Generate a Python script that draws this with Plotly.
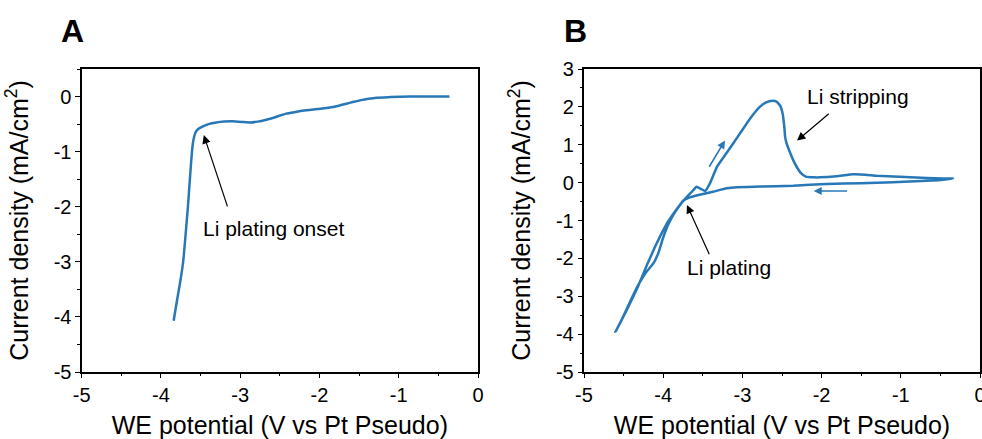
import plotly.graph_objects as go

# ---------------- data ----------------
a_potential = [-3.84, -3.80, -3.76, -3.72, -3.70, -3.68, -3.66, -3.64, -3.62, -3.60,
               -3.58, -3.56, -3.53, -3.47, -3.40, -3.30, -3.20, -3.10, -2.98, -2.88,
               -2.78, -2.67, -2.55, -2.42, -2.30, -2.17, -2.02, -1.87, -1.77, -1.66,
               -1.58, -1.49, -1.38, -1.28, -1.10, -0.86, -0.60, -0.36]
a_current = [-4.07, -3.72, -3.39, -3.00, -2.69, -2.35, -2.00, -1.60, -1.20, -0.88,
             -0.72, -0.64, -0.59, -0.54, -0.50, -0.47, -0.455, -0.45, -0.46, -0.47,
             -0.455, -0.42, -0.37, -0.31, -0.28, -0.25, -0.225, -0.20, -0.17, -0.13,
             -0.10, -0.07, -0.04, -0.02, -0.01, 0.0, 0.0, 0.0]

b_potential = [-0.34, -0.50, -0.67, -1.10, -1.50, -1.94, -2.36, -2.78, -3.07, -3.20,
               -3.37, -3.54, -3.68, -3.75,
               -3.80, -3.88, -3.96, -4.03, -4.10, -4.20, -4.32, -4.46, -4.60,
               -4.52, -4.42, -4.32, -4.22, -4.12, -4.06, -4.00, -3.93, -3.85, -3.76,
               -3.68, -3.62, -3.58, -3.52, -3.47, -3.41, -3.32, -3.20, -3.03, -2.90,
               -2.78, -2.70, -2.62, -2.57, -2.52, -2.49, -2.47, -2.46, -2.44, -2.40,
               -2.36, -2.31, -2.26, -2.20, -2.10, -2.02, -1.81, -1.60, -1.45, -1.30,
               -0.88, -0.46, -0.34]
b_current = [0.11, 0.07, 0.05, 0.01, -0.015, -0.035, -0.08, -0.105, -0.12, -0.15,
             -0.24, -0.32, -0.40, -0.48,
             -0.62, -0.85, -1.10, -1.38, -1.68, -2.15, -2.75, -3.36, -3.93,
             -3.60, -3.15, -2.72, -2.38, -2.12, -1.85, -1.45, -1.08, -0.78, -0.52,
             -0.33, -0.20, -0.11, -0.17, -0.22, -0.02, 0.42, 0.78, 1.30, 1.70,
             2.00, 2.12, 2.16, 2.14, 2.02, 1.80, 1.45, 1.20, 1.02, 0.80,
             0.60, 0.40, 0.25, 0.16, 0.14, 0.14, 0.17, 0.22, 0.21, 0.18,
             0.14, 0.11, 0.11]

x_tickvals = [-5, -4, -3, -2, -1, 0]
x_ticktext = ["-5", "-4", "-3", "-2", "-1", "0"]
a_y_tickvals = [-5, -4, -3, -2, -1, 0]
a_y_ticktext = ["-5", "-4", "-3", "-2", "-1", "0"]
b_y_tickvals = [-5, -4, -3, -2, -1, 0, 1, 2, 3]
b_y_ticktext = ["-5", "-4", "-3", "-2", "-1", "0", "1", "2", "3"]

x_title = "WE potential (V vs Pt Pseudo)"
y_title = "Current density (mA/cm<sup>2</sup>)"

# ---------------- styling ----------------
FONT = "Liberation Sans, Arial, sans-serif"
BLUE = "#2878b8"

fig = go.Figure()
fig.add_trace(go.Scatter(x=a_potential, y=a_current, mode="lines",
                         line=dict(color=BLUE, width=2.5, shape="spline", smoothing=0.5),
                         xaxis="x", yaxis="y", showlegend=False))
fig.add_trace(go.Scatter(x=b_potential, y=b_current, mode="lines",
                         line=dict(color=BLUE, width=2.5, shape="spline", smoothing=0.4),
                         xaxis="x2", yaxis="y2", showlegend=False))

def xaxis(domain, anchor):
    return dict(domain=domain, anchor=anchor, range=[-5, 0], tickvals=x_tickvals,
                ticktext=x_ticktext, ticks="outside", ticklen=4.5, tickwidth=1.2,
                tickcolor="black", showline=True, linecolor="black", linewidth=1.5,
                mirror=True, showgrid=False, zeroline=False, automargin=False,
                ticklabeloverflow="allow",
                tickfont=dict(family=FONT, size=20, color="black"),
                minor=dict(dtick=0.5, ticks="outside", ticklen=2.5, tickcolor="black", tickwidth=1),
                title=dict(text=x_title, font=dict(family=FONT, size=25, color="black"), standoff=13))

def yaxis(domain, anchor, rng, tv, tt):
    return dict(domain=domain, anchor=anchor, range=rng, tickvals=tv, ticktext=tt,
                ticks="outside", ticklen=4.5, tickwidth=1.2, tickcolor="black",
                showline=True, linecolor="black", linewidth=1.5, mirror=True,
                showgrid=False, zeroline=False, automargin=False,
                tickfont=dict(family=FONT, size=20, color="black"),
                minor=dict(dtick=0.5, ticks="outside", ticklen=2.5, tickcolor="black", tickwidth=1),
                title=dict(text=y_title, font=dict(family=FONT, size=25, color="black"), standoff=18))

W, H = 982, 439
ydom = [1 - 372 / H, 1 - 69 / H]
fig.update_layout(
    width=W, height=H, margin=dict(l=0, r=0, t=0, b=0, autoexpand=False),
    paper_bgcolor="white", plot_bgcolor="white",
    xaxis=xaxis([81.7 / W, 478 / W], "y"),
    yaxis=yaxis(ydom, "x", [-5, 0.5], a_y_tickvals, a_y_ticktext),
    xaxis2=xaxis([584 / W, 980 / W], "y2"),
    yaxis2=yaxis(ydom, "x2", [-5, 3], b_y_tickvals, b_y_ticktext),
)

ann = []
# panel letters
ann.append(dict(text="<b>A</b>", x=72.5 / W, y=1 - 31 / H, xref="paper", yref="paper",
                xanchor="center", yanchor="middle",
                showarrow=False, font=dict(family=FONT, size=32, color="black")))
ann.append(dict(text="<b>B</b>", x=575 / W, y=1 - 31 / H, xref="paper", yref="paper",
                xanchor="center", yanchor="middle",
                showarrow=False, font=dict(family=FONT, size=32, color="black")))
# text labels
ann.append(dict(text="Li plating onset", x=-2.575, y=-2.40, xref="x", yref="y",
                showarrow=False, font=dict(family=FONT, size=21, color="black")))
ann.append(dict(text="Li stripping", x=-1.54, y=2.27, xref="x2", yref="y2",
                showarrow=False, font=dict(family=FONT, size=21, color="black")))
ann.append(dict(text="Li plating", x=-3.17, y=-2.24, xref="x2", yref="y2",
                showarrow=False, font=dict(family=FONT, size=21, color="black")))
# black arrows
for (xh, yh, xt, yt, xr, yr) in [(-3.46, -0.70, -3.155, -2.02, "x", "y"),
                                 (-2.31, 1.11, -1.89, 1.85, "x2", "y2"),
                                 (-3.70, -0.59, -3.41, -1.93, "x2", "y2")]:
    ann.append(dict(text="", x=xh, y=yh, ax=xt, ay=yt, xref=xr, yref=yr, axref=xr, ayref=yr,
                    showarrow=True, arrowhead=2, arrowsize=1.4, arrowwidth=1.2,
                    arrowcolor="black", standoff=0, startstandoff=0))
# blue direction arrows
for (xh, yh, xt, yt) in [(-3.22, 1.11, -3.43, 0.38), (-2.10, -0.22, -1.66, -0.22)]:
    ann.append(dict(text="", x=xh, y=yh, ax=xt, ay=yt, xref="x2", yref="y2", axref="x2", ayref="y2",
                    showarrow=True, arrowhead=2, arrowsize=1.0, arrowwidth=1.6,
                    arrowcolor=BLUE, standoff=0, startstandoff=0))
fig.update_layout(annotations=ann)

fig.write_html("out.html")
